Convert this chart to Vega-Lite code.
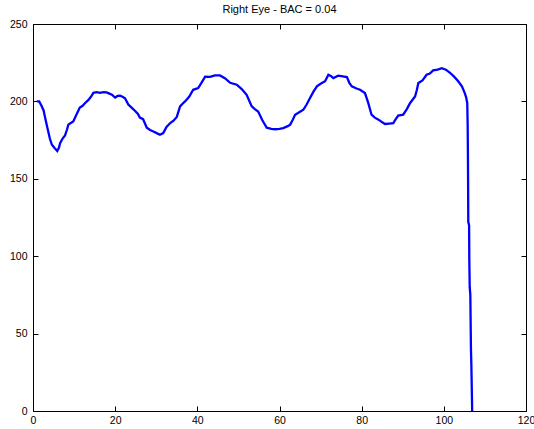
{
  "$schema": "https://vega.github.io/schema/vega-lite/v6.json",
  "width": 493,
  "height": 387,
  "autosize": {"type": "none"},
  "padding": {"left": 33, "top": 24, "right": 8, "bottom": 18},
  "background": "white",
  "title": {"text": "Right Eye - BAC = 0.04", "font": "Liberation Sans", "fontSize": 11, "fontWeight": "normal", "color": "black", "offset": 4},
  "config": {
    "view": {"stroke": null},
    "axis": {"grid": false, "domainColor": "black", "tickColor": "black", "labelColor": "black", "labelFont": "Liberation Sans", "labelFontSize": 10.5, "title": null, "tickSize": -5, "domainWidth": 1, "tickWidth": 1}
  },
  "data": {"values": [
    {"t":0.9,"v":200},{"t":1.5,"v":200},{"t":2.1,"v":197},{"t":2.6,"v":194},{"t":2.9,"v":190},{"t":3.5,"v":183},{"t":4.1,"v":176},{"t":4.6,"v":172},{"t":5.2,"v":170},{"t":5.9,"v":168},{"t":6.3,"v":170},{"t":6.6,"v":173},{"t":7.2,"v":176},{"t":7.8,"v":178},{"t":8.3,"v":182},{"t":8.6,"v":185},{"t":9.2,"v":186},{"t":9.8,"v":187},{"t":10.5,"v":191},{"t":11.4,"v":196},{"t":12.0,"v":197},{"t":12.7,"v":199},{"t":13.5,"v":201},{"t":14.1,"v":203},{"t":14.7,"v":205.5},{"t":15.5,"v":206},{"t":16.3,"v":205.5},{"t":17.1,"v":206},{"t":17.9,"v":205.8},{"t":18.6,"v":205},{"t":19.2,"v":204.3},{"t":20.0,"v":202.5},{"t":20.6,"v":203.5},{"t":21.2,"v":203.7},{"t":21.8,"v":203},{"t":22.4,"v":202},{"t":23.2,"v":198},{"t":24.0,"v":196},{"t":24.8,"v":194},{"t":25.5,"v":192},{"t":26.0,"v":189.5},{"t":26.8,"v":188.5},{"t":27.7,"v":183},{"t":28.5,"v":181.5},{"t":29.3,"v":180.6},{"t":30.1,"v":179.5},{"t":30.9,"v":178.5},{"t":31.7,"v":179.5},{"t":32.5,"v":183.5},{"t":33.4,"v":186},{"t":34.2,"v":187.5},{"t":35.0,"v":190},{"t":35.8,"v":196.8},{"t":36.4,"v":198.5},{"t":37.0,"v":200},{"t":38.0,"v":203},{"t":39.0,"v":207.5},{"t":40.2,"v":208.6},{"t":41.0,"v":212},{"t":41.9,"v":216},{"t":43.1,"v":215.8},{"t":44.3,"v":216.8},{"t":45.5,"v":216.8},{"t":46.7,"v":215},{"t":48.0,"v":212},{"t":49.6,"v":210.8},{"t":50.8,"v":208},{"t":52.0,"v":204.3},{"t":53.2,"v":197},{"t":54.0,"v":195},{"t":54.8,"v":193.5},{"t":55.8,"v":188},{"t":56.9,"v":183},{"t":58.0,"v":182.2},{"t":58.9,"v":182},{"t":60.0,"v":182.3},{"t":60.9,"v":182.8},{"t":62.0,"v":184},{"t":62.6,"v":185},{"t":63.2,"v":188},{"t":63.8,"v":191.4},{"t":64.8,"v":193},{"t":65.8,"v":194.6},{"t":66.6,"v":198},{"t":67.4,"v":202},{"t":68.2,"v":206},{"t":69.1,"v":209.7},{"t":70.1,"v":211.5},{"t":71.1,"v":213},{"t":71.9,"v":217.2},{"t":72.5,"v":216.5},{"t":73.1,"v":215.1},{"t":74.3,"v":216.6},{"t":75.4,"v":216.2},{"t":76.4,"v":215.7},{"t":77.0,"v":212},{"t":77.6,"v":209.7},{"t":78.6,"v":208.5},{"t":79.6,"v":207.5},{"t":80.8,"v":205.4},{"t":81.6,"v":199},{"t":82.4,"v":191.4},{"t":83.2,"v":189.5},{"t":84.1,"v":188.2},{"t":85.0,"v":186.5},{"t":85.7,"v":185.4},{"t":86.7,"v":185.7},{"t":87.7,"v":186},{"t":88.3,"v":188.5},{"t":88.9,"v":190.8},{"t":90.1,"v":191.4},{"t":91.0,"v":195},{"t":91.8,"v":199},{"t":93.0,"v":203.2},{"t":93.4,"v":207},{"t":93.8,"v":211.9},{"t":94.8,"v":213.5},{"t":95.8,"v":217.2},{"t":96.6,"v":218},{"t":97.4,"v":220},{"t":98.5,"v":220.5},{"t":99.5,"v":221.5},{"t":100.5,"v":220.5},{"t":101.5,"v":218.5},{"t":102.5,"v":216},{"t":103.5,"v":213},{"t":104.4,"v":209.7},{"t":105.0,"v":206},{"t":105.4,"v":203},{"t":105.7,"v":199},{"t":105.8,"v":185},{"t":105.85,"v":170},{"t":105.9,"v":150},{"t":105.95,"v":122},{"t":106.15,"v":120},{"t":106.2,"v":98},{"t":106.3,"v":80},{"t":106.45,"v":75},{"t":106.6,"v":40},{"t":106.7,"v":30},{"t":106.9,"v":0}
  ]},
  "layer": [
    {
      "mark": {"type": "line", "color": "#0000ff", "strokeWidth": 2.3, "clip": true},
      "encoding": {
        "x": {"field": "t", "type": "quantitative", "scale": {"domain": [0, 120], "nice": false, "zero": false}, "axis": {"orient": "bottom", "values": [0,20,40,60,80,100,120], "labelPadding": 9, "labelFlush": false}},
        "y": {"field": "v", "type": "quantitative", "scale": {"domain": [0, 250], "nice": false}, "axis": {"orient": "left", "values": [0,50,100,150,200,250], "labelPadding": 11}}
      }
    },
    {
      "mark": {"type": "line", "opacity": 0},
      "encoding": {
        "x": {"field": "t", "type": "quantitative", "axis": {"orient": "top", "values": [0,20,40,60,80,100,120], "labels": false}},
        "y": {"field": "v", "type": "quantitative", "axis": {"orient": "right", "values": [0,50,100,150,200,250], "labels": false}}
      }
    }
  ],
  "resolve": {"axis": {"x": "independent", "y": "independent"}}
}
